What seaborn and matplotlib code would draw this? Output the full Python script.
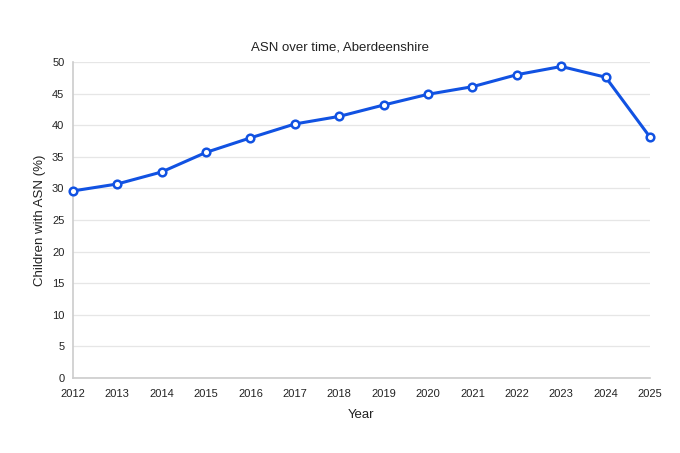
import matplotlib
matplotlib.use("Agg")
import matplotlib.pyplot as plt
import seaborn as sns
import pandas as pd

years = [2012, 2013, 2014, 2015, 2016, 2017, 2018, 2019, 2020, 2021, 2022, 2023, 2024, 2025]
asn_pct = [29.6, 30.7, 32.6, 35.7, 38.0, 40.2, 41.4, 43.2, 44.9, 46.1, 48.0, 49.3, 47.6, 38.1]
y_ticks = [0, 5, 10, 15, 20, 25, 30, 35, 40, 45, 50]

sns.set_theme(style="white")
plt.rcParams['font.family'] = ['Liberation Sans', 'DejaVu Sans']

df = pd.DataFrame({"Year": years, "ASN": asn_pct})

fig = plt.figure(figsize=(6.8, 4.53), dpi=100)
ax = fig.add_axes([0.107, 0.1656, 0.849, 0.6974])

line_color = "#1152e2"
sns.lineplot(data=df, x="Year", y="ASN", ax=ax, color=line_color, linewidth=2.2,
             marker="o", markersize=5.5, markerfacecolor="white",
             markeredgecolor=line_color, markeredgewidth=1.8, zorder=5, clip_on=False)

ax.set_xlim(2012, 2025)
ax.set_ylim(0, 50)
ax.set_xticks(years)
ax.set_xticklabels([str(y) for y in years])
ax.set_yticks(y_ticks)
ax.yaxis.grid(True, color="#e6e6e6", linewidth=0.9)
ax.xaxis.grid(False)
ax.set_axisbelow(True)
for side in ["top", "right"]:
    ax.spines[side].set_visible(False)
for side in ["left", "bottom"]:
    ax.spines[side].set_color("#cccccc")
    ax.spines[side].set_linewidth(1.2)
ax.tick_params(axis="x", length=0, labelsize=8, colors="#222222", pad=8)
ax.tick_params(axis="y", length=0, labelsize=8, colors="#222222", pad=6)

fig.text(0.5, 1 - 47 / 453, "ASN over time, Aberdeenshire", fontsize=9.5,
         color="#222222", ha="center", va="center")
ax.set_xlabel("Year", fontsize=9.5, color="#222222", labelpad=7)
ax.set_ylabel("Children with ASN (%)", fontsize=9.5, color="#222222", labelpad=4)

fig.savefig("out.png", dpi=100, facecolor="white")
